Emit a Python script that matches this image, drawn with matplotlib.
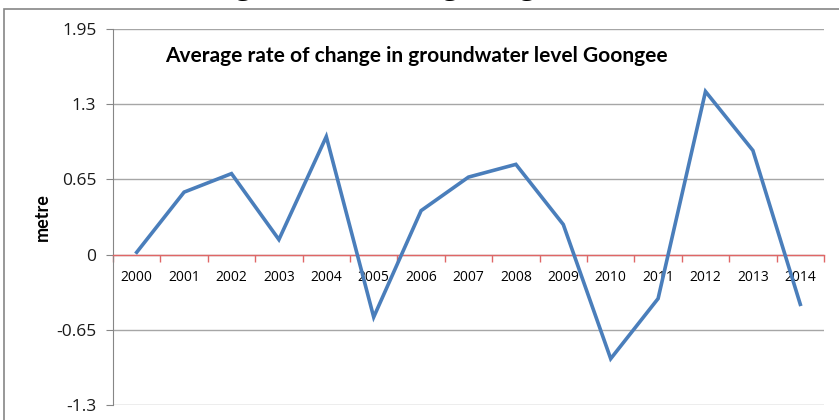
import matplotlib
matplotlib.use("Agg")
import matplotlib.pyplot as plt
from matplotlib.patches import Rectangle
from matplotlib.ticker import FixedLocator

years = [str(y) for y in range(2000, 2015)]
rate = [0.02, 0.54, 0.70, 0.13, 1.02, -0.54, 0.38, 0.67, 0.78, 0.26,
        -0.90, -0.38, 1.41, 0.90, -0.43]
yticks = [-1.3, -0.65, 0, 0.65, 1.3, 1.95]
ytick_labels = ["-1.3", "-0.65", "0", "0.65", "1.3", "1.95"]
title = "Average rate of change in groundwater level Goongee"

plt.rcParams["font.family"] = ["Open Sans", "DejaVu Sans"]
W, H = 839, 420
fig = plt.figure(figsize=(W / 100, H / 100), dpi=100)
fig.patch.set_facecolor("white")

# outer chart frame (cut off on right/bottom like the screenshot)
fig.add_artist(Rectangle((3.5 / W, -0.2), 2, 1.2 - 8.5 / H, transform=fig.transFigure,
                         fill=False, ec="#868686", lw=1.2))
# descenders of the caption line cropped at the top
for gx in [243, 450, 527]:
    fig.text(gx / W, 1 + 6 / H, "g", family="Liberation Serif", fontsize=24,
             ha="center", va="baseline", color="black")

ax = fig.add_axes([113 / W, 1 - 405 / H, (824 - 113) / W, (405 - 29) / H])
x = list(range(len(years)))
ax.plot(x, rate, color="#4A7EBB", lw=2.6, solid_joinstyle="miter", zorder=3)

ax.set_xlim(-0.5, len(years) - 0.5)
ax.set_ylim(-1.3, 1.95)
ax.set_yticks(yticks)
ax.set_yticklabels(ytick_labels, fontsize=12.5, color="#1a1a1a")
ax.yaxis.grid(True, color="#A6A6A6", lw=1)
ax.set_axisbelow(True)
ax.tick_params(axis="y", length=5, color="#868686", pad=7)

ax.set_xticks(x)
ax.set_xticklabels(years, fontsize=13, color="#1a1a1a")
ax.xaxis.set_minor_locator(FixedLocator([i - 0.5 for i in range(len(years) + 1)]))
ax.tick_params(axis="x", which="major", length=0, pad=11)
ax.tick_params(axis="x", which="minor", length=5, color="#E06666", width=1)

ax.spines["bottom"].set_position(("data", 0))
ax.spines["bottom"].set_color("#E06666")
ax.spines["bottom"].set_linewidth(1)
ax.spines["left"].set_color("#868686")
for s in ["top", "right"]:
    ax.spines[s].set_visible(False)

ax.set_ylabel("metre", fontsize=13, fontweight="bold", family="Lato", va="center")
ax.yaxis.set_label_coords((42 - 113) / (824 - 113), 0.5)
fig.text(165 / W, 1 - 62 / H, title, fontsize=15, fontweight="bold", family="Lato",
         ha="left", va="baseline")

fig.savefig("out.png", dpi=100, facecolor="white")
